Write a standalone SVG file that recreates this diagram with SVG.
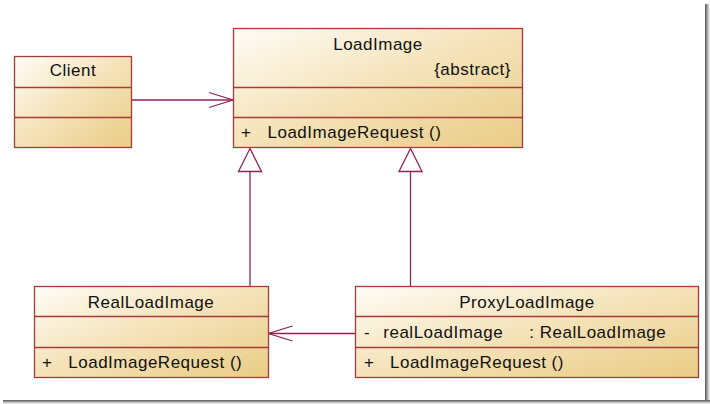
<svg xmlns="http://www.w3.org/2000/svg" width="710" height="404" viewBox="0 0 710 404">
<defs>
<linearGradient id="fill" x1="0" y1="0" x2="1" y2="1">
<stop offset="0" stop-color="#fffdf7"/>
<stop offset="0.5" stop-color="#f4e2b8"/>
<stop offset="1" stop-color="#e9cc85"/>
</linearGradient>
<linearGradient id="shR" x1="0" y1="0" x2="1" y2="0">
<stop offset="0" stop-color="#555"/>
<stop offset="0.3" stop-color="#888"/>
<stop offset="1" stop-color="#fff"/>
</linearGradient>
<linearGradient id="shB" x1="0" y1="0" x2="0" y2="1">
<stop offset="0" stop-color="#555"/>
<stop offset="0.3" stop-color="#888"/>
<stop offset="1" stop-color="#fff"/>
</linearGradient>
<style>
.box{fill:url(#fill);stroke:#a83a3a;stroke-width:1.3}
.div{stroke:#a83a3a;stroke-width:1.3;fill:none}
.t{font-family:"Liberation Sans",Arial,sans-serif;font-size:17px;fill:#111;letter-spacing:0.5px}
.c{text-anchor:middle}
.e{text-anchor:end}
.con{stroke:#8e2454;stroke-width:1.3;fill:none}
.gen{stroke:#8e2454;stroke-width:1.3;fill:#fff}
</style>
</defs>
<rect x="0" y="0" width="710" height="404" fill="#fff"/>
<rect x="705" y="4" width="5" height="400" fill="url(#shR)"/>
<rect x="3" y="400" width="707" height="4" fill="url(#shB)"/>

<g id="connectors">
<line class="con" x1="131.5" y1="100" x2="233" y2="100"/>
<polyline class="con" points="209,92.5 233,100 209,107.5"/>
<line class="con" x1="250" y1="286" x2="250" y2="171.5"/>
<polygon class="gen" points="250,148.5 238.5,171.5 261.5,171.5"/>
<line class="con" x1="410.5" y1="286" x2="410.5" y2="171.5"/>
<polygon class="gen" points="410.5,148.5 399,171.5 422,171.5"/>
<line class="con" x1="355.5" y1="333.5" x2="268.5" y2="333.5"/>
<polyline class="con" points="292.5,326 268.5,333.5 292.5,341"/>
</g>

<g id="Client">
<rect class="box" x="14.5" y="56.5" width="117" height="91"/>
<path class="div" d="M14.5 87.5H131.5M14.5 117.5H131.5"/>
<text class="t c" x="73" y="76">Client</text>
</g>

<g id="LoadImage">
<rect class="box" x="233.5" y="28.5" width="289" height="119"/>
<path class="div" d="M233.5 87.5H522.5M233.5 117.5H522.5"/>
<text class="t c" x="378" y="50">LoadImage</text>
<text class="t e" x="511" y="75">{abstract}</text>
<text class="t" x="241" y="137.5">+</text>
<text class="t" x="267.5" y="137.5">LoadImageRequest ()</text>
</g>

<g id="RealLoadImage">
<rect class="box" x="34.5" y="286.5" width="234" height="91"/>
<path class="div" d="M34.5 316.5H268.5M34.5 347.5H268.5"/>
<text class="t c" x="151" y="307.5">RealLoadImage</text>
<text class="t" x="42" y="368">+</text>
<text class="t" x="68.3" y="368">LoadImageRequest ()</text>
</g>

<g id="ProxyLoadImage">
<rect class="box" x="355.5" y="286.5" width="343" height="91"/>
<path class="div" d="M355.5 316.5H698.5M355.5 347.5H698.5"/>
<text class="t c" x="527" y="307.5">ProxyLoadImage</text>
<text class="t" x="364" y="338">-</text>
<text class="t" x="383.3" y="338">realLoadImage</text>
<text class="t" x="529.3" y="338">: RealLoadImage</text>
<text class="t" x="364" y="368">+</text>
<text class="t" x="390" y="368">LoadImageRequest ()</text>
</g>
</svg>
